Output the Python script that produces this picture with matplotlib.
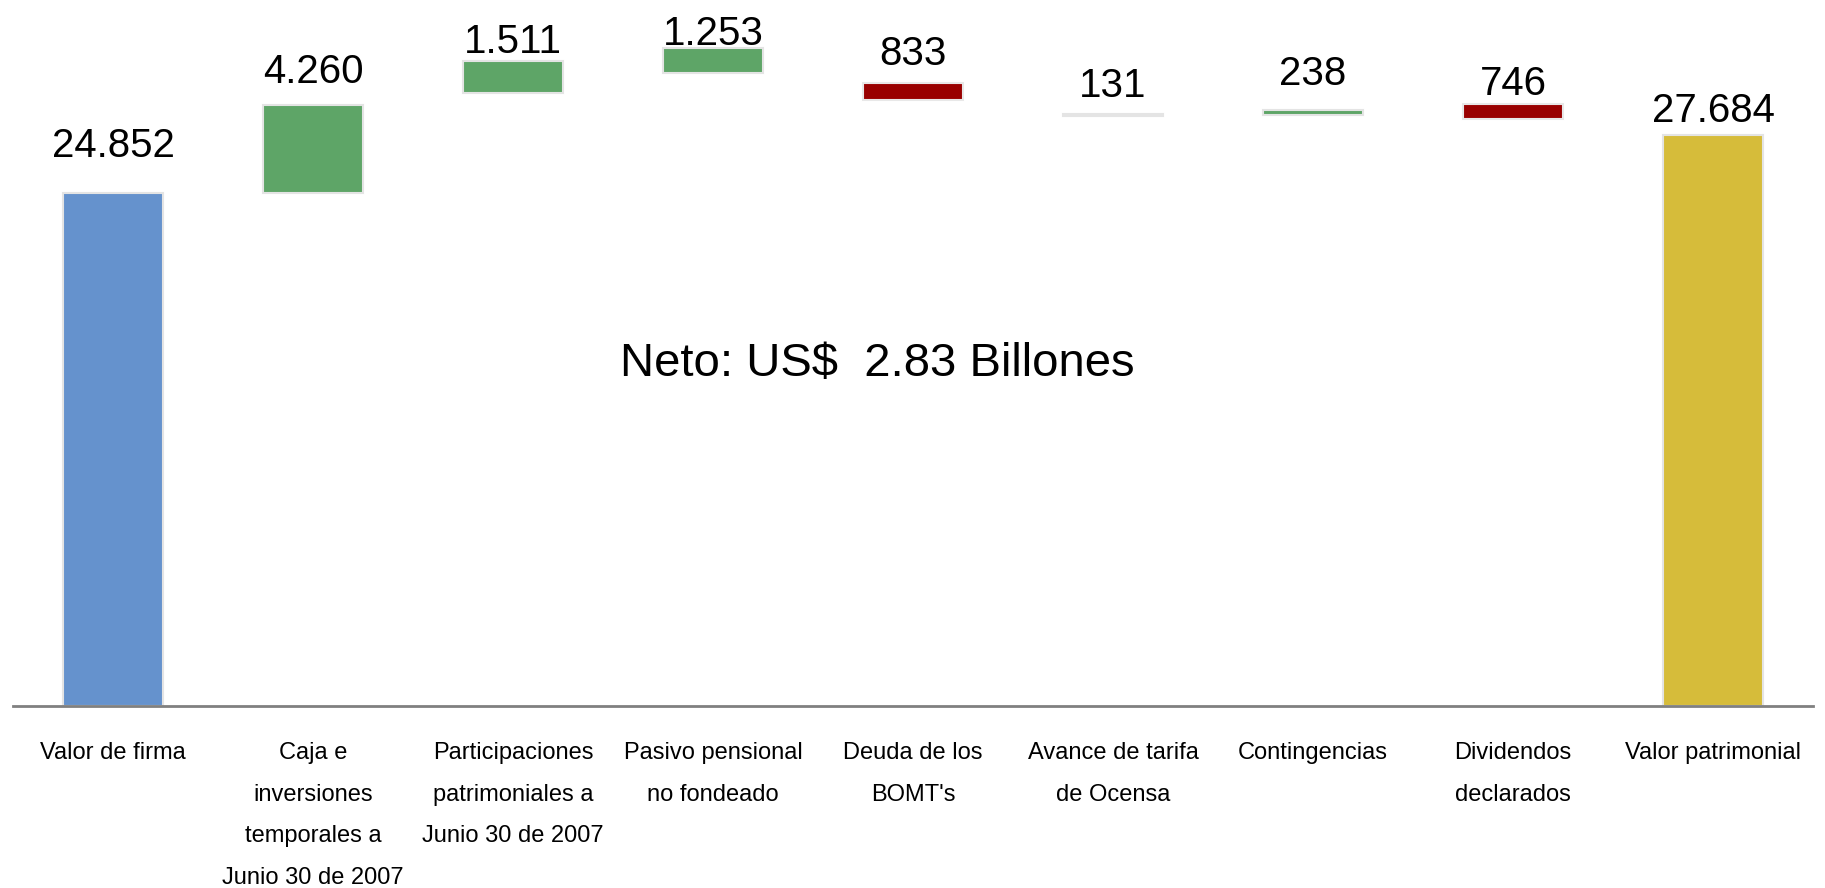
import matplotlib
matplotlib.use("Agg")
import matplotlib.pyplot as plt

# Bridge from firm value to equity value (millions)
categories = [
    "Valor de firma",
    "Caja e\ninversiones\ntemporales a\nJunio 30 de 2007",
    "Participaciones\npatrimoniales a\nJunio 30 de 2007",
    "Pasivo pensional\nno fondeado",
    "Deuda de los\nBOMT's",
    "Avance de tarifa\nde Ocensa",
    "Contingencias",
    "Dividendos\ndeclarados",
    "Valor patrimonial",
]
values = [24852, 4260, 1511, 1253, 833, 131, 238, 746, 27684]
value_labels = ["24.852", "4.260", "1.511", "1.253", "833", "131", "238", "746", "27.684"]
bar_bottoms = [0, 24852, 29710, 30640, 29350, 28560, 28630, 28425, 0]
kinds = ["total", "up", "up", "up", "down", "neutral", "up", "down", "final"]
note_text = "Neto: US$  2.83 Billones"

# Layout
label_baselines = [26594, 30178, 31631, 32019, 31050, 29500, 30081, 29597, 28289]
kind_colors = {
    "total": "#6592CD",
    "up": "#5EA567",
    "down": "#990000",
    "neutral": "#EBEBEB",
    "final": "#D6BC3A",
}

W, H = 1825, 888
fig = plt.figure(figsize=(W / 100, H / 100), dpi=100)
ax = fig.add_axes([13 / W, 1 - 706 / H, 1800 / W, 706 / H])

x = list(range(len(categories)))
colors = [kind_colors[k] for k in kinds]
edges = ["#E4E4E4" if k != "down" else "#E8E8E8" for k in kinds]
ax.bar(x, values, bottom=bar_bottoms, width=0.5, color=colors,
       edgecolor=edges, linewidth=1.5, zorder=2)

for xi, lab, yb in zip(x, value_labels, label_baselines):
    ax.text(xi, yb, lab, ha="center", va="baseline", fontsize=29,
            family="Liberation Sans", color="black")

ax.text(3.82, 15985, note_text, ha="center", va="baseline", fontsize=34,
        family="Liberation Sans", color="black")

ax.set_xlim(-0.5, 8.5)
ax.set_ylim(0, 34200)
ax.set_xticks(x)
ax.set_xticklabels(categories, fontsize=17, family="Liberation Sans",
                   linespacing=2.15, va="top", ha="center")
ax.tick_params(axis="x", length=0, pad=26)
ax.set_yticks([])

for side in ("top", "right", "left"):
    ax.spines[side].set_visible(False)
ax.spines["bottom"].set_color("#808080")
ax.spines["bottom"].set_linewidth(2)

fig.savefig("out.png", dpi=100)
